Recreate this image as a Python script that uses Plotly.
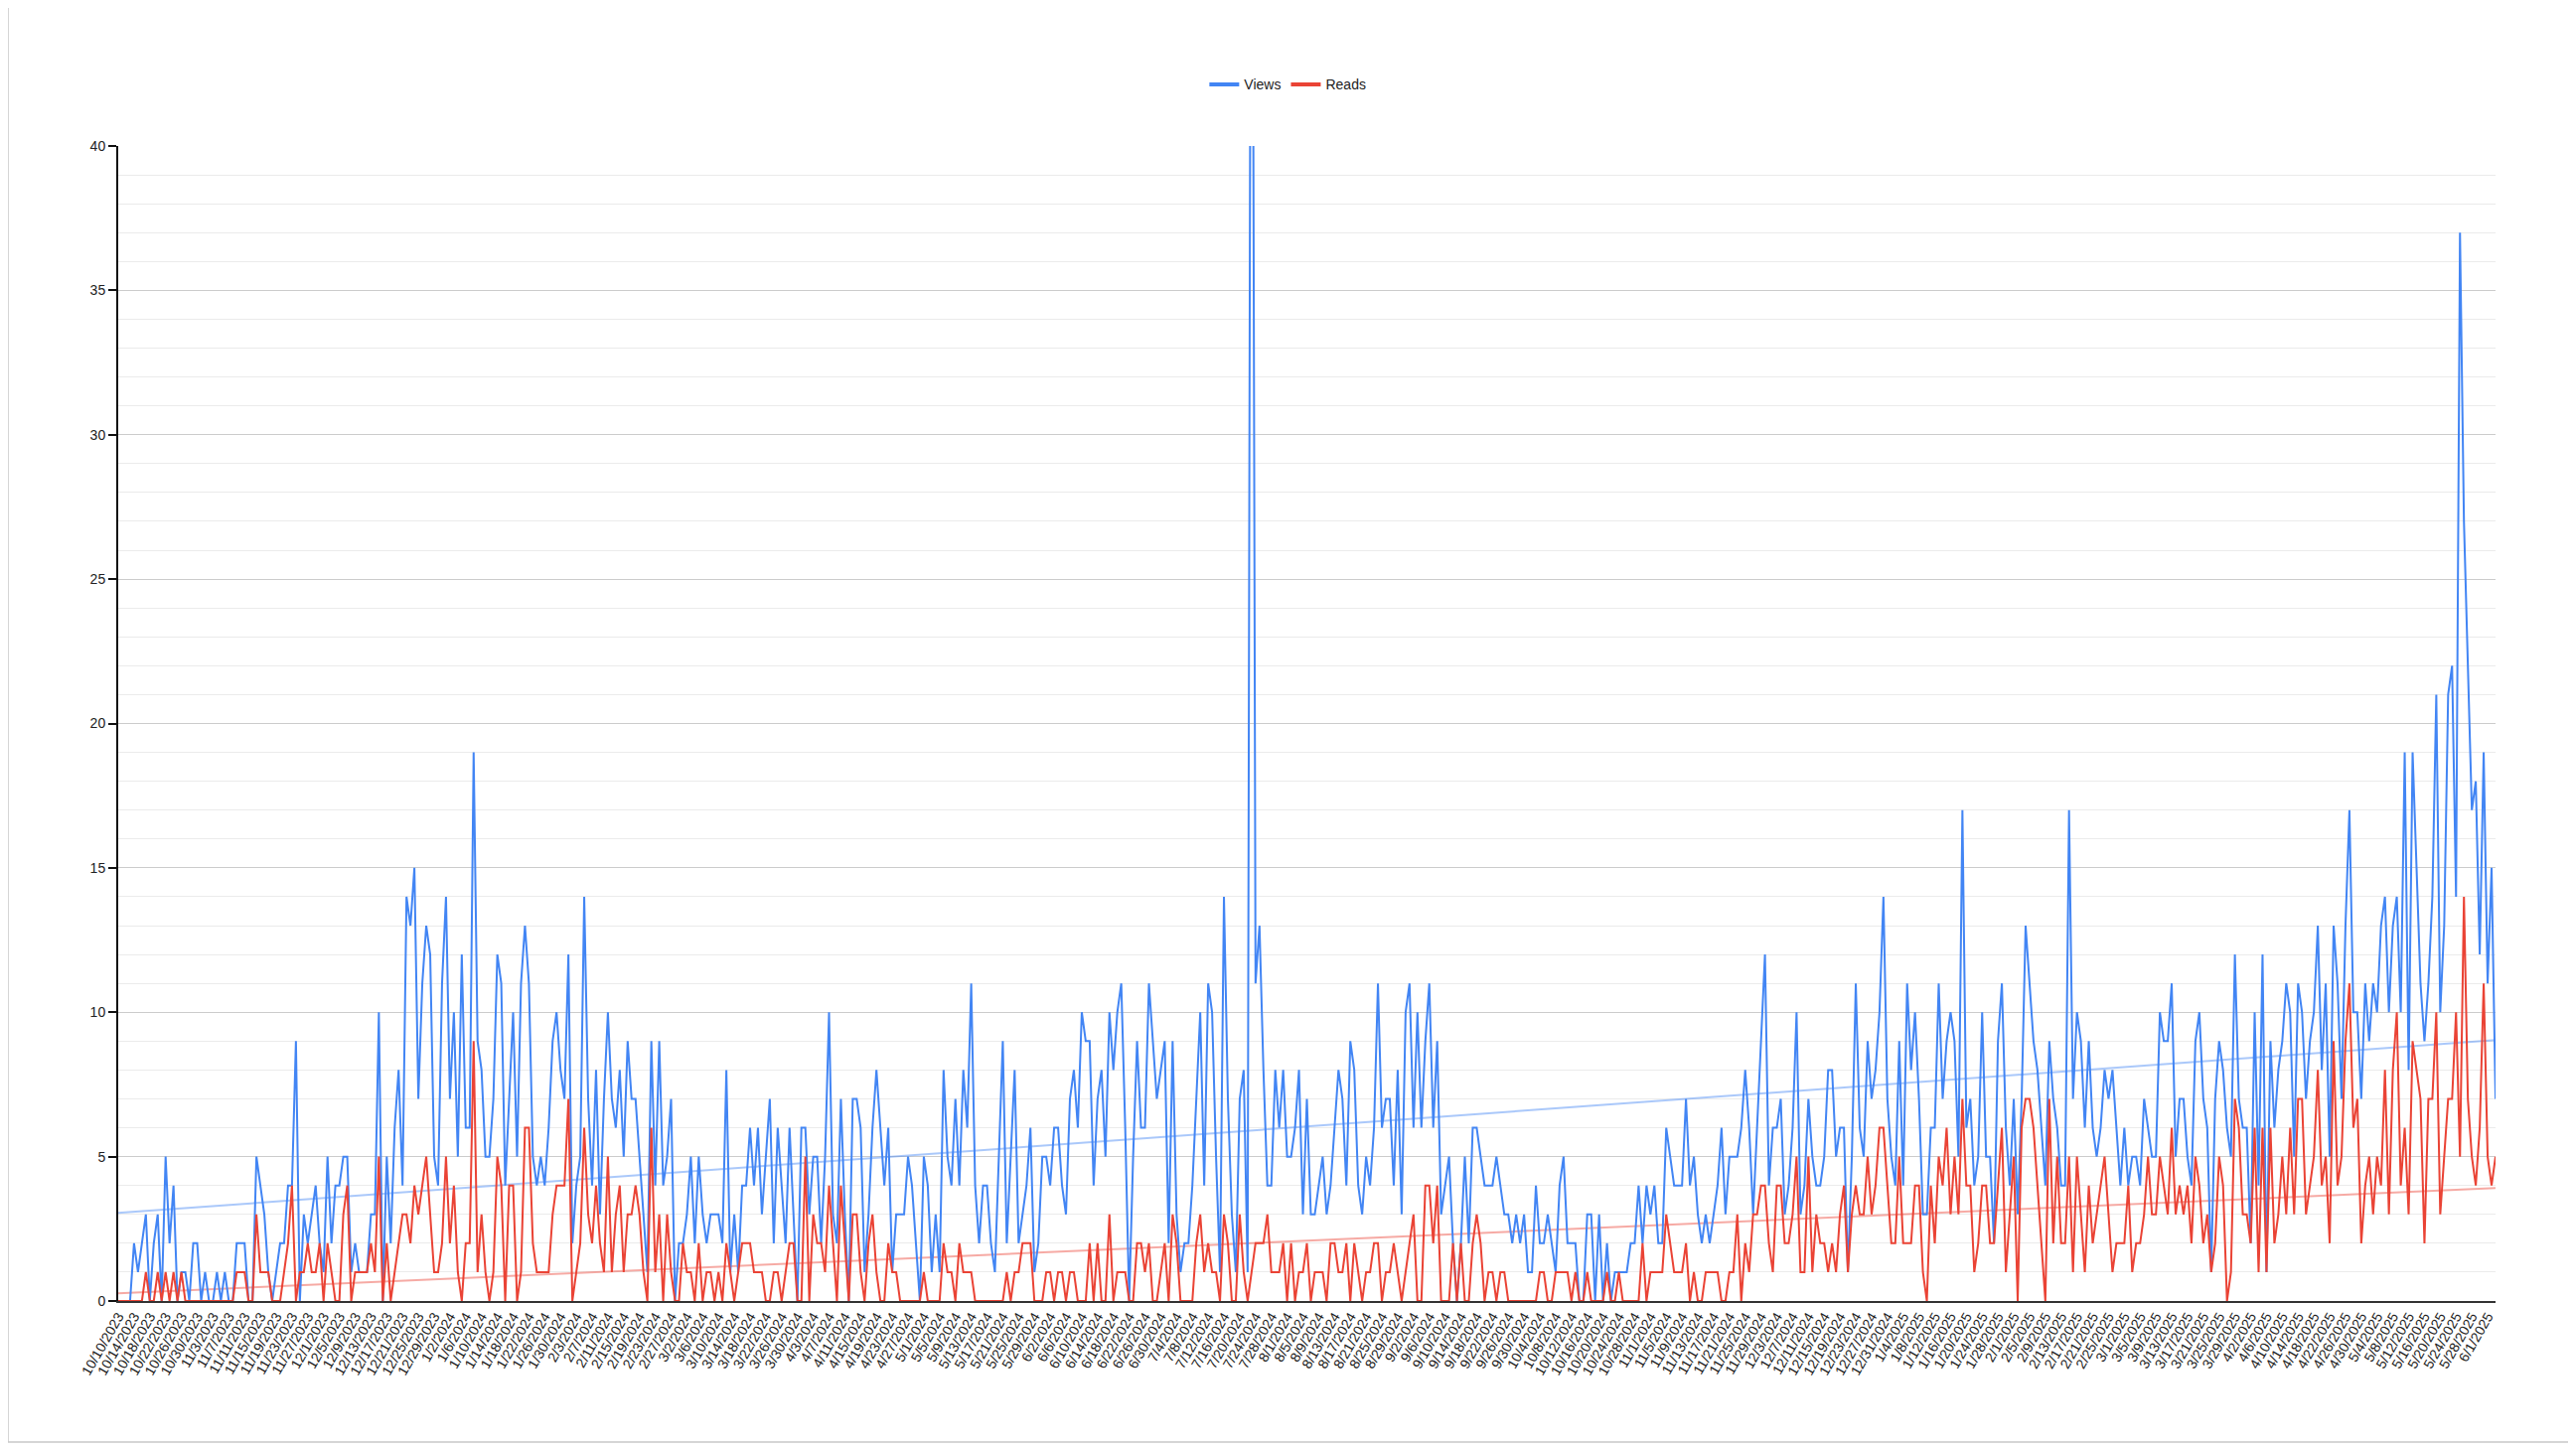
import plotly.graph_objects as go
import numpy as np
import pandas as pd

# ---- categories (one per day) ----
start_date = "2023-10-10"
n_days = 603
dates = pd.date_range(start_date, periods=n_days, freq="D")
date_labels = [f"{d.month}/{d.day}/{d.year}" for d in dates]
tick_step = 4
tick_labels = date_labels[::tick_step]

# ---- series values ----
views = [
    0, 0, 0, 0, 2, 1, 2, 3, 0, 2,
    3, 0, 5, 2, 4, 0, 1, 1, 0, 2,
    2, 0, 1, 0, 0, 1, 0, 1, 0, 0,
    2, 2, 2, 0, 0, 5, 4, 3, 1, 0,
    1, 2, 2, 4, 4, 9, 0, 3, 2, 3,
    4, 2, 1, 5, 2, 4, 4, 5, 5, 1,
    2, 1, 1, 1, 3, 3, 10, 0, 5, 2,
    6, 8, 4, 14, 13, 15, 7, 11, 13, 12,
    5, 4, 11, 14, 7, 10, 5, 12, 6, 6,
    19, 9, 8, 5, 5, 7, 12, 11, 4, 7,
    10, 5, 11, 13, 11, 5, 4, 5, 4, 6,
    9, 10, 8, 7, 12, 2, 4, 5, 14, 7,
    4, 8, 3, 7, 10, 7, 6, 8, 5, 9,
    7, 7, 5, 3, 1, 9, 4, 9, 4, 5,
    7, 0, 2, 2, 3, 5, 2, 5, 3, 2,
    3, 3, 3, 2, 8, 1, 3, 1, 4, 4,
    6, 4, 6, 3, 5, 7, 2, 6, 4, 2,
    6, 3, 0, 6, 6, 3, 5, 5, 2, 5,
    10, 3, 2, 7, 3, 0, 7, 7, 6, 1,
    3, 6, 8, 6, 4, 6, 1, 3, 3, 3,
    5, 4, 2, 0, 5, 4, 1, 3, 1, 8,
    5, 4, 7, 4, 8, 6, 11, 4, 2, 4,
    4, 2, 1, 5, 9, 2, 5, 8, 2, 3,
    4, 6, 1, 2, 5, 5, 4, 6, 6, 4,
    3, 7, 8, 6, 10, 9, 9, 4, 7, 8,
    5, 10, 8, 10, 11, 6, 0, 5, 9, 6,
    6, 11, 9, 7, 8, 9, 2, 9, 3, 1,
    2, 2, 4, 7, 10, 4, 11, 10, 5, 1,
    14, 7, 3, 1, 7, 8, 1, 64, 11, 13,
    8, 4, 4, 8, 6, 8, 5, 5, 6, 8,
    3, 7, 3, 3, 4, 5, 3, 4, 6, 8,
    7, 4, 9, 8, 4, 3, 5, 4, 6, 11,
    6, 7, 7, 4, 8, 3, 10, 11, 6, 10,
    6, 9, 11, 6, 9, 3, 4, 5, 2, 0,
    2, 5, 2, 6, 6, 5, 4, 4, 4, 5,
    4, 3, 3, 2, 3, 2, 3, 1, 1, 4,
    2, 2, 3, 2, 1, 4, 5, 2, 2, 2,
    0, 0, 3, 3, 0, 3, 0, 2, 0, 1,
    1, 1, 1, 2, 2, 4, 2, 4, 3, 4,
    2, 2, 6, 5, 4, 4, 4, 7, 4, 5,
    3, 2, 3, 2, 3, 4, 6, 3, 5, 5,
    5, 6, 8, 6, 3, 6, 9, 12, 4, 6,
    6, 7, 3, 4, 6, 10, 3, 4, 7, 5,
    4, 4, 5, 8, 8, 5, 6, 6, 1, 5,
    11, 6, 5, 9, 7, 8, 10, 14, 7, 5,
    4, 9, 4, 11, 8, 10, 7, 3, 3, 6,
    6, 11, 7, 9, 10, 9, 5, 17, 6, 7,
    4, 5, 10, 5, 5, 2, 9, 11, 6, 4,
    7, 3, 7, 13, 11, 9, 8, 6, 4, 9,
    7, 6, 4, 4, 17, 7, 10, 9, 6, 9,
    6, 5, 6, 8, 7, 8, 6, 4, 6, 4,
    5, 5, 4, 7, 6, 5, 5, 10, 9, 9,
    11, 5, 7, 7, 5, 4, 9, 10, 7, 6,
    1, 7, 9, 8, 6, 5, 12, 7, 6, 6,
    2, 10, 4, 12, 1, 9, 6, 8, 9, 11,
    10, 5, 11, 10, 7, 9, 10, 13, 8, 11,
    5, 13, 11, 7, 13, 17, 10, 10, 7, 11,
    9, 11, 10, 13, 14, 10, 13, 14, 10, 19,
    8, 19, 15, 11, 9, 11, 14, 21, 10, 13,
    21, 22, 14, 37, 27, 22, 17, 18, 12, 19,
    11, 15, 7,
]

reads = [
    0, 0, 0, 0, 0, 0, 0, 1, 0, 0,
    1, 0, 1, 0, 1, 0, 1, 0, 0, 0,
    0, 0, 0, 0, 0, 0, 0, 0, 0, 0,
    1, 1, 1, 0, 0, 3, 1, 1, 1, 0,
    0, 0, 1, 2, 4, 0, 1, 1, 2, 1,
    1, 2, 0, 2, 1, 0, 0, 3, 4, 0,
    1, 1, 1, 1, 2, 1, 5, 0, 2, 0,
    1, 2, 3, 3, 2, 4, 3, 4, 5, 3,
    1, 1, 2, 5, 2, 4, 1, 0, 2, 2,
    9, 1, 3, 1, 0, 1, 5, 4, 0, 4,
    4, 0, 1, 6, 6, 2, 1, 1, 1, 1,
    3, 4, 4, 4, 7, 0, 1, 2, 6, 3,
    2, 4, 2, 1, 5, 1, 3, 4, 1, 3,
    3, 4, 3, 1, 0, 6, 1, 3, 0, 3,
    1, 0, 0, 2, 1, 1, 0, 2, 0, 1,
    1, 0, 1, 0, 2, 1, 0, 1, 2, 2,
    2, 1, 1, 1, 0, 0, 1, 1, 0, 1,
    2, 2, 0, 0, 5, 0, 3, 2, 2, 1,
    4, 2, 0, 4, 2, 0, 3, 3, 1, 0,
    2, 3, 1, 0, 0, 2, 1, 1, 0, 0,
    0, 0, 0, 0, 1, 0, 0, 0, 0, 2,
    1, 1, 0, 2, 1, 1, 1, 0, 0, 0,
    0, 0, 0, 0, 0, 1, 0, 1, 1, 2,
    2, 2, 0, 0, 0, 1, 1, 0, 1, 1,
    0, 1, 1, 0, 0, 0, 2, 0, 2, 0,
    0, 3, 0, 1, 1, 1, 0, 0, 2, 2,
    1, 2, 0, 0, 1, 2, 0, 3, 2, 0,
    0, 0, 0, 2, 3, 1, 2, 1, 1, 0,
    3, 2, 0, 0, 3, 1, 0, 1, 2, 2,
    2, 3, 1, 1, 1, 2, 0, 2, 0, 1,
    1, 2, 0, 1, 1, 1, 0, 2, 2, 1,
    1, 2, 0, 2, 1, 0, 1, 1, 2, 2,
    0, 1, 1, 2, 1, 0, 1, 2, 3, 0,
    0, 4, 4, 2, 4, 0, 0, 0, 2, 0,
    2, 0, 0, 2, 3, 2, 0, 1, 1, 0,
    1, 1, 0, 0, 0, 0, 0, 0, 0, 0,
    1, 1, 0, 0, 1, 1, 1, 1, 0, 1,
    0, 0, 1, 0, 0, 0, 0, 1, 0, 0,
    1, 0, 0, 0, 0, 0, 2, 0, 1, 1,
    1, 1, 3, 2, 1, 1, 1, 2, 0, 1,
    0, 0, 1, 1, 1, 1, 0, 0, 1, 1,
    3, 0, 2, 1, 3, 3, 4, 4, 2, 1,
    4, 4, 2, 2, 3, 5, 1, 1, 5, 1,
    3, 2, 2, 1, 2, 1, 3, 4, 1, 3,
    4, 3, 3, 5, 3, 4, 6, 6, 4, 2,
    2, 5, 2, 2, 2, 4, 4, 1, 0, 4,
    2, 5, 4, 6, 3, 5, 3, 7, 4, 4,
    1, 2, 4, 4, 2, 2, 4, 6, 1, 3,
    5, 0, 6, 7, 7, 6, 4, 2, 0, 7,
    2, 5, 2, 2, 5, 1, 5, 3, 1, 4,
    2, 3, 4, 5, 3, 1, 2, 2, 2, 4,
    1, 2, 2, 3, 5, 3, 3, 5, 4, 3,
    6, 3, 4, 3, 4, 2, 5, 4, 2, 3,
    1, 2, 5, 4, 0, 1, 7, 6, 3, 3,
    2, 6, 1, 6, 1, 6, 2, 3, 5, 3,
    6, 3, 7, 7, 3, 4, 5, 8, 4, 5,
    2, 9, 4, 5, 9, 11, 6, 7, 2, 4,
    5, 3, 5, 4, 8, 3, 8, 10, 4, 6,
    3, 9, 8, 7, 2, 7, 7, 10, 3, 5,
    7, 7, 10, 5, 14, 7, 5, 4, 6, 11,
    5, 4, 5,
]

views_color = "#4285F4"
reads_color = "#EA4335"

idx = np.arange(n_days)
tick_vals = idx[::tick_step]

# linear trendlines (least squares on the category index)
fit_v = np.polyfit(idx, np.array(views, dtype=float), 1)
fit_r = np.polyfit(idx, np.array(reads, dtype=float), 1)
trend_x = np.array([idx[0], idx[-1]])

fig = go.Figure()

fig.add_trace(go.Scatter(
    x=trend_x, y=np.polyval(fit_v, trend_x), mode="lines",
    line=dict(color="rgba(66,133,244,0.45)", width=2),
    hoverinfo="skip", showlegend=False, legendgroup="views"))
fig.add_trace(go.Scatter(
    x=trend_x, y=np.polyval(fit_r, trend_x), mode="lines",
    line=dict(color="rgba(234,67,53,0.45)", width=2),
    hoverinfo="skip", showlegend=False, legendgroup="reads"))

fig.add_trace(go.Scatter(
    x=idx, y=views, mode="lines", name="Views",
    line=dict(color=views_color, width=2),
    customdata=date_labels, hovertemplate="%{customdata}<br>Views: %{y}<extra></extra>",
    showlegend=False, legendgroup="views"))
fig.add_trace(go.Scatter(
    x=idx, y=reads, mode="lines", name="Reads",
    line=dict(color=reads_color, width=2),
    customdata=date_labels, hovertemplate="%{customdata}<br>Reads: %{y}<extra></extra>",
    showlegend=False, legendgroup="reads"))

# legend entries (thicker swatches, like the reference)
fig.add_trace(go.Scatter(x=[None], y=[None], mode="lines", name="Views",
                         line=dict(color=views_color, width=4), legendgroup="views"))
fig.add_trace(go.Scatter(x=[None], y=[None], mode="lines", name="Reads",
                         line=dict(color=reads_color, width=4), legendgroup="reads"))

font_family = "Liberation Sans, Arial, sans-serif"

# page body has an 8px margin, so the figure is 8px smaller each way
fig_w, fig_h = 2585, 1448
plot_l, plot_t, plot_r, plot_b = 111, 139, 2504, 1302
plot_w, plot_h = plot_r - plot_l, plot_b - plot_t

def px_x(x):  # figure px -> paper x
    return (x - plot_l) / plot_w

def px_y(y):  # figure px -> paper y
    return (plot_b - y) / plot_h

fig.update_layout(
    width=fig_w, height=fig_h,
    margin=dict(l=plot_l, r=fig_w - plot_r, t=plot_t, b=fig_h - plot_b),
    paper_bgcolor="white", plot_bgcolor="white",
    font=dict(family=font_family, size=14, color="#222222"),
    showlegend=True,
    legend=dict(orientation="h", x=0.492, xanchor="center", y=1.053, yanchor="middle",
                font=dict(size=14, color="#222222"), itemwidth=30,
                bgcolor="rgba(0,0,0,0)"),
    xaxis=dict(
        range=[0, n_days - 1],
        tickmode="array", tickvals=tick_vals, ticktext=tick_labels,
        tickangle=-60, tickfont=dict(size=14, color="#222222"),
        showgrid=False, zeroline=False,
        showline=True, linecolor="#333333", linewidth=2,
        ticks="",
    ),
    yaxis=dict(
        range=[0, 40], tick0=0, dtick=5,
        tickfont=dict(size=14, color="#222222"),
        showgrid=True, gridcolor="#cccccc", gridwidth=1,
        minor=dict(dtick=1, showgrid=True, gridcolor="#ebebeb", gridwidth=1),
        zeroline=False,
        showline=True, linecolor="#111111", linewidth=2,
        ticks="outside", ticklen=8, tickcolor="#111111", tickwidth=2,
    ),
    shapes=[dict(
        type="rect", xref="paper", yref="paper", layer="below",
        x0=px_x(0), x1=px_x(2580), y0=px_y(1444), y1=px_y(-3),
        line=dict(color="#c8c8c8", width=1.5), fillcolor="rgba(0,0,0,0)",
    )],
)

fig.write_html("out.html")
